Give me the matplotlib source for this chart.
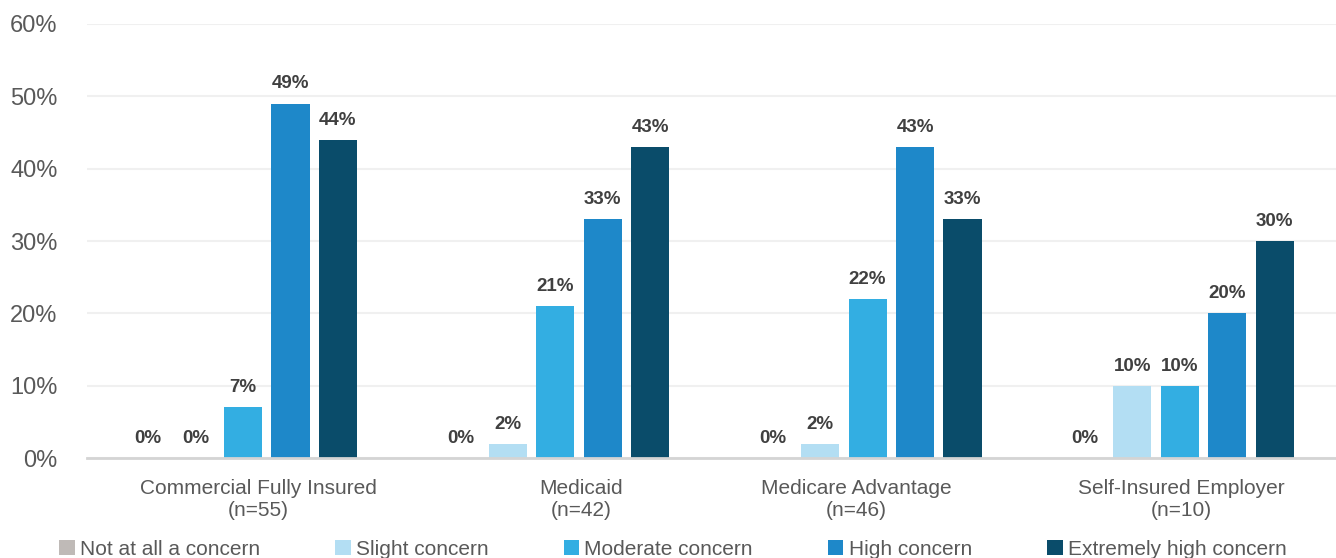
import matplotlib.pyplot as plt
import matplotlib.transforms as mtransforms
import numpy as np

plt.rcParams['font.family'] = ['Liberation Sans', 'DejaVu Sans']

categories = ['Commercial Fully Insured\n(n=55)', 'Medicaid\n(n=42)',
              'Medicare Advantage\n(n=46)', 'Self-Insured Employer\n(n=10)']
series = ['Not at all a concern', 'Slight concern', 'Moderate concern',
          'High concern', 'Extremely high concern']
values = [
    [0, 0, 0, 0],        # Not at all a concern
    [0, 2, 2, 10],       # Slight concern
    [7, 21, 22, 10],     # Moderate concern
    [49, 33, 43, 20],    # High concern
    [44, 43, 33, 30],    # Extremely high concern
]
colors = ['#BFBAB7', '#B3DEF3', '#33AEE2', '#1E88C9', '#0A4C6A']
y_ticks = [0, 10, 20, 30, 40, 50, 60]

fig = plt.figure(figsize=(13.36, 5.58), dpi=100)
ax = fig.add_axes([0.065, 0.179, 0.935, 0.778])

x = np.arange(len(categories))
step = 0.152
width = 0.122
for i, (name, vals) in enumerate(zip(series, values)):
    pos = x + (i - 2) * step
    bars = ax.bar(pos, vals, width, color=colors[i], label=name, zorder=3)
    for b, v in zip(bars, vals):
        ax.annotate(f'{v}%', (b.get_x() + b.get_width() / 2, v),
                    xytext=(0, 8), textcoords='offset points',
                    ha='center', va='bottom', fontsize=13.5, fontweight='bold',
                    color='#404040')

ax.set_xlim(-0.5, 3.5)
ax.set_ylim(0, 60)
ax.set_yticks(y_ticks)
ax.set_yticklabels([f'{t}%' for t in y_ticks])
ax.tick_params(axis='y', length=0, labelsize=17, labelcolor='#595959', pad=21)
ax.set_xticks(x)
ax.set_xticklabels(categories, fontsize=15, color='#595959', linespacing=1.2)
ax.tick_params(axis='x', length=0, pad=15)

# small per-label nudges to follow the reference's label placement
label_shift = [0.05, 0.083, -0.035, 0.006]
for lbl, s in zip(ax.get_xticklabels(), label_shift):
    lbl.set_transform(lbl.get_transform() + mtransforms.ScaledTranslation(s * 3.12, 0, fig.dpi_scale_trans))

ax.grid(axis='y', color='#F0F0F0', linewidth=1.5, zorder=0)
for side in ['top', 'right', 'left']:
    ax.spines[side].set_visible(False)
ax.spines['bottom'].set_color('#D4D4D4')
ax.spines['bottom'].set_linewidth(2)
ax.spines['bottom'].set_zorder(4)

fig.legend(loc='center left', bbox_to_anchor=(0.038, 0.016), ncol=5, frameon=False,
           fontsize=15, handlelength=0.75, handleheight=0.75, handletextpad=0.25,
           columnspacing=3.6, labelcolor='#595959', borderaxespad=0)

fig.savefig('out.png', dpi=100)
